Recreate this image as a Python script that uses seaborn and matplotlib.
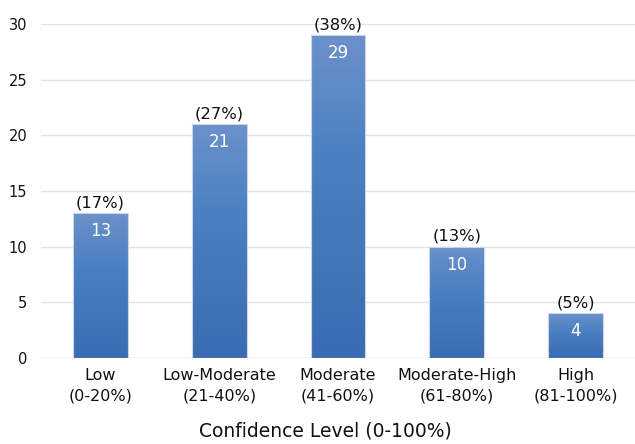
import numpy as np
import pandas as pd
import matplotlib
matplotlib.use("Agg")
import matplotlib.pyplot as plt
import seaborn as sns
from matplotlib.colors import LinearSegmentedColormap

categories = ["Low\n(0-20%)", "Low-Moderate\n(21-40%)", "Moderate\n(41-60%)",
              "Moderate-High\n(61-80%)", "High\n(81-100%)"]
counts = [13, 21, 29, 10, 4]
percents = ["(17%)", "(27%)", "(38%)", "(13%)", "(5%)"]
y_ticks = [0, 5, 10, 15, 20, 25, 30]

sns.set_theme(style="white")
plt.rcParams["font.family"] = ["DejaVu Sans"]

df = pd.DataFrame({"level": categories, "count": counts})

fig = plt.figure(figsize=(6.35, 4.44), dpi=100)
ax = fig.add_axes([0.0646, 0.1937, 0.9354, 0.7523])

sns.barplot(data=df, x="level", y="count", color="#4a7fc1", width=0.46,
            saturation=1, ax=ax, zorder=3)

ax.set_ylim(0, 30)
ax.set_xlim(-0.5, 4.5)
ax.set_yticks(y_ticks)
ax.yaxis.grid(True, color="#e3e3e3", linewidth=1.0, zorder=0)
ax.set_axisbelow(True)
for s in ax.spines.values():
    s.set_visible(False)
ax.axhline(0, color="#dcdcdc", linewidth=1.0, zorder=1)

# vertical gradient fill, lighter at the top of each bar
grad_cmap = LinearSegmentedColormap.from_list(
    "bar_grad", [(0.0, "#3b6cb3"), (0.6, "#4a7fc2"), (1.0, "#6b91ca")])
for patch, val in zip(ax.patches, counts):
    patch.set_facecolor("none")
    patch.set_edgecolor("#c9d6ea")
    patch.set_linewidth(0.8)
    x0 = patch.get_x()
    w = patch.get_width()
    grad = np.linspace(0, 1, 256).reshape(-1, 1)
    im = ax.imshow(grad, cmap=grad_cmap, origin="lower", aspect="auto",
                   extent=[x0, x0 + w, 0, val], zorder=2)
    im.set_clip_path(patch)

ax.set_xlim(-0.5, 4.5)
ax.set_ylim(0, 30)

for i, (val, pct) in enumerate(zip(counts, percents)):
    ax.annotate(str(val), (i, val), xytext=(0, -6.5), textcoords="offset points",
                ha="center", va="top", color="white", fontsize=12, zorder=4)
    ax.annotate(pct, (i, val), xytext=(0, 2), textcoords="offset points",
                ha="center", va="bottom", color="#111111", fontsize=11.8,
                zorder=4, annotation_clip=False)

ax.tick_params(axis="y", labelsize=10.5, colors="#111111", length=0, pad=10)
ax.tick_params(axis="x", labelsize=11.5, colors="#111111", length=0, pad=7)
for lab in ax.get_xticklabels():
    lab.set_linespacing(1.45)
ax.set_ylabel("")
ax.set_xlabel("Confidence Level (0-100%)", fontsize=13.5, color="#111111",
              labelpad=13)
ax.xaxis.label.set_x(0.478)

fig.savefig("out.png", dpi=100)
